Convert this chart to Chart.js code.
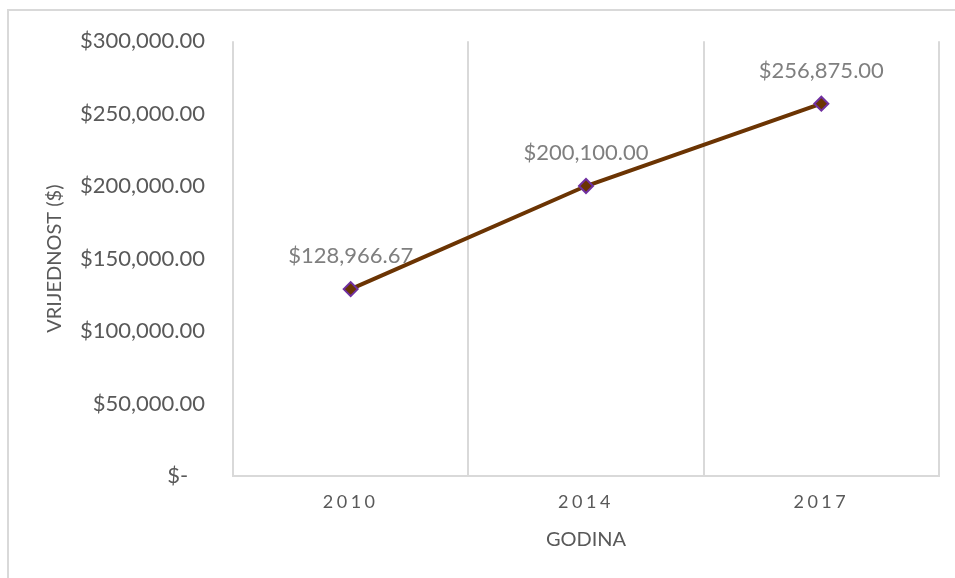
<!DOCTYPE html>
<html>
<head>
<meta charset="utf-8">
<script src="https://cdn.jsdelivr.net/npm/chart.js@4.4.1/dist/chart.umd.min.js"></script>
<style>
    html, body { margin: 0; padding: 0; background: #fff; overflow: hidden; }
    #frame {
        position: absolute; left: 7px; top: 9px; width: 1000px; height: 700px;
        border-top: 2px solid #d9d9d9; border-left: 2px solid #d9d9d9;
    }
    #chart { position: absolute; left: 0; top: 0; }
</style>
</head>
<body>
<div id="frame"></div>
<canvas id="chart" width="955" height="578"></canvas>
<script>
const years = ['2010', '2014', '2017'];
const values = [128966.67, 200100, 256875];
const yMin = 0;
const yMax = 300000;
const yStep = 50000;

const font = 'Lato';
const money = (v) => '$' + v.toLocaleString('en-US', {minimumFractionDigits: 2, maximumFractionDigits: 2});

// x tick labels in the original are letter spaced
const spacedTicks = {
    id: 'spacedTicks',
    beforeDraw(chart) {
        const scale = chart.scales.x;
        if (scale._spaced) return;
        const drawLabels = Object.getPrototypeOf(scale).drawLabels;
        scale.drawLabels = function (area) {
            this.ctx.save();
            this.ctx.letterSpacing = '3.5px';
            drawLabels.call(this, area);
            this.ctx.restore();
        };
        scale._spaced = true;
    }
};

// value labels above the points
const valueLabels = {
    id: 'valueLabels',
    afterDatasetsDraw(chart) {
        const ctx = chart.ctx;
        const meta = chart.getDatasetMeta(0);
        ctx.save();
        ctx.font = '22px ' + font;
        ctx.fillStyle = '#7f7f7f';
        ctx.textAlign = 'center';
        ctx.textBaseline = 'middle';
        meta.data.forEach((point, i) => {
            ctx.fillText(money(values[i]), point.x, point.y - 33);
        });
        ctx.restore();
    }
};

new Chart(document.getElementById('chart'), {
    type: 'line',
    data: {
        labels: years,
        datasets: [{
            data: values,
            borderColor: '#6b3403',
            borderWidth: 4,
            pointStyle: 'rectRot',
            pointRadius: 7,
            pointHoverRadius: 7,
            pointBackgroundColor: '#6b3403',
            pointBorderColor: '#7030a0',
            pointBorderWidth: 2,
            tension: 0
        }]
    },
    options: {
        responsive: false,
        animation: false,
        devicePixelRatio: 1,
        layout: {padding: {left: 0, right: 16, top: 40, bottom: 0}},
        plugins: {
            legend: {display: false},
            tooltip: {enabled: false}
        },
        scales: {
            x: {
                offset: true,
                grid: {offset: true, color: '#d9d9d9', lineWidth: 2, drawTicks: false},
                border: {color: '#d9d9d9', width: 2},
                ticks: {color: '#595959', font: {family: font, size: 18}, padding: 15, maxRotation: 0},
                title: {
                    display: true, text: 'GODINA', color: '#595959',
                    font: {family: font, size: 20}, padding: {top: 26, bottom: 26}
                },
                afterFit(scale) { scale.height = 102; }
            },
            y: {
                min: yMin,
                max: yMax,
                grid: {display: false, drawTicks: false},
                border: {display: false},
                ticks: {
                    stepSize: yStep,
                    color: '#595959',
                    font: {family: font, size: 22},
                    padding: 28,
                    callback: (v) => v === 0 ? '$-   ' : money(v)
                },
                title: {
                    display: true, text: 'VRIJEDNOST ($)', color: '#595959',
                    font: {family: font, size: 20}, padding: {top: 43, bottom: 43}
                },
                afterFit(scale) { scale.width = 233; }
            }
        }
    },
    plugins: [spacedTicks, valueLabels]
});
</script>
</body>
</html>
